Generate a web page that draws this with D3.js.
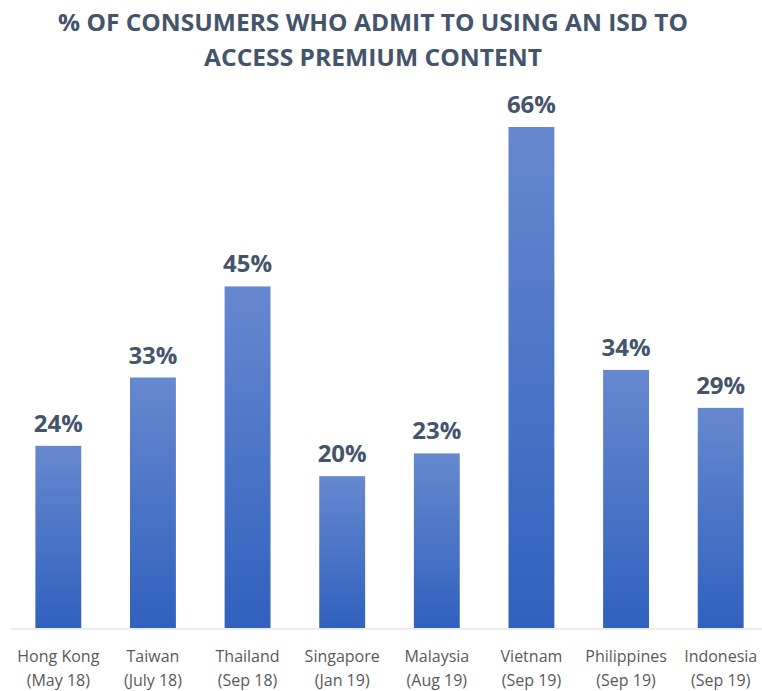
<!DOCTYPE html>
<html>
<head>
<meta charset="utf-8">
<script src="https://cdn.jsdelivr.net/npm/d3@7"></script>
<style>
  body { margin: 0; background: #fff; }
  svg text { font-family: "Open Sans", "Noto Sans", sans-serif; }
</style>
</head>
<body>
<div id="chart"></div>
<script>
// data
const countries = ["Hong Kong", "Taiwan", "Thailand", "Singapore", "Malaysia", "Vietnam", "Philippines", "Indonesia"];
const surveyDates = ["(May 18)", "(July 18)", "(Sep 18)", "(Jan 19)", "(Aug 19)", "(Sep 19)", "(Sep 19)", "(Sep 19)"];
const shares = [24, 33, 45, 20, 23, 66, 34, 29];
const titleLines = ["% OF CONSUMERS WHO ADMIT TO USING AN ISD TO", "ACCESS PREMIUM CONTENT"];

const W = 762, H = 691;
const svg = d3.select("#chart").append("svg")
  .attr("width", W).attr("height", H);

const data = countries.map((c, i) => ({name: c, date: surveyDates[i], v: shares[i]}));

var x = d3.scaleBand().domain(countries).range([11, 768]).paddingInner(0.515).paddingOuter(0.2575);
var y = d3.scaleLinear().domain([0, 66]).range([628, 127]);

// gradient for bars
const grad = svg.append("defs").append("linearGradient")
  .attr("id", "barGrad").attr("x1", 0).attr("y1", 0).attr("x2", 0).attr("y2", 1);
grad.append("stop").attr("offset", "0%").attr("stop-color", "#6688cf");
grad.append("stop").attr("offset", "100%").attr("stop-color", "#3061be");

// title
svg.append("g").selectAll("text")
  .data(titleLines)
  .enter().append("text")
    .attr("x", 373)
    .attr("y", (d, i) => 31 + i * 35)
    .attr("text-anchor", "middle")
    .attr("textLength", (d, i) => i === 0 ? 630 : 338)
    .attr("lengthAdjust", "spacingAndGlyphs")
    .style("font-size", "24px")
    .style("font-weight", "bold")
    .style("fill", "#44546a")
    .text(d => d);

// bars
svg.selectAll(".bar")
  .data(data)
  .enter().append("rect")
    .attr("class", "bar")
    .attr("x", d => x(d.name))
    .attr("y", d => y(d.v))
    .attr("width", x.bandwidth())
    .attr("height", d => y(0) - y(d.v))
    .style("fill", "url(#barGrad)");

// value labels
svg.selectAll(".val")
  .data(data)
  .enter().append("text")
    .attr("class", "val")
    .attr("x", d => x(d.name) + x.bandwidth() / 2)
    .attr("y", d => y(d.v) - 14)
    .attr("text-anchor", "middle")
    .style("font-size", "24px")
    .style("font-weight", "bold")
    .style("fill", "#44546a")
    .text(d => d.v + "%");

// axis
const axis = svg.append("g")
  .attr("transform", "translate(0," + (y(0) + 1) + ")")
  .call(d3.axisBottom(x).tickSize(0).tickFormat(""));
axis.select(".domain").attr("stroke", "#d9d9d9").attr("d", "M11,0H762");

const lab = svg.selectAll(".cat")
  .data(data)
  .enter().append("text")
    .attr("class", "cat")
    .attr("text-anchor", "middle")
    .style("font-size", "16px")
    .style("fill", "#595959");
lab.append("tspan")
  .attr("x", d => x(d.name) + x.bandwidth() / 2).attr("y", 662)
  .text(d => d.name);
lab.append("tspan")
  .attr("x", d => x(d.name) + x.bandwidth() / 2).attr("y", 686)
  .text(d => d.date);
</script>
</body>
</html>
